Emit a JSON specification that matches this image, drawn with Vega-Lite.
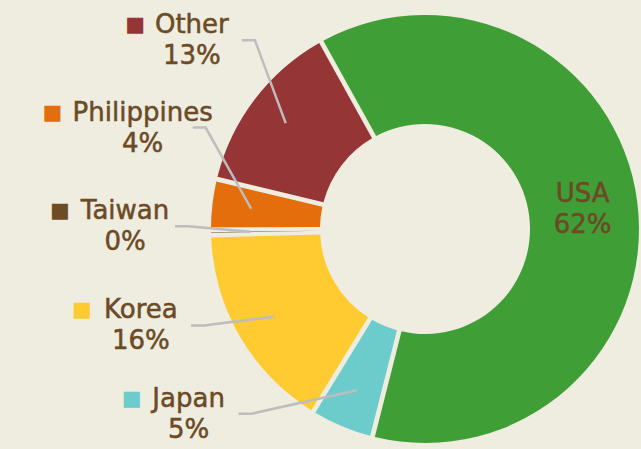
{
  "$schema": "https://vega.github.io/schema/vega-lite/v6.json",
  "autosize": {"type": "none"},
  "width": 432,
  "height": 440,
  "padding": {"left": 209, "top": 9, "right": 0, "bottom": 0},
  "background": "#EFECE0",
  "config": {"view": {"stroke": null}},
  "data": {
    "values": [
      {"idx": 0, "name": "USA", "share": 0.620},
      {"idx": 1, "name": "Japan", "share": 0.048},
      {"idx": 2, "name": "Korea", "share": 0.158},
      {"idx": 3, "name": "Taiwan", "share": 0.004},
      {"idx": 4, "name": "Philippines", "share": 0.038},
      {"idx": 5, "name": "Other", "share": 0.132}
    ]
  },
  "transform": [
    {"stack": "share", "groupby": [], "sort": [{"field": "idx", "order": "ascending"}], "as": ["s0", "s1"]},
    {"calculate": "datum.idx === 0 ? (datum.s0 + datum.s1) / 2 : (261 + 19.25 * (datum.idx - 1)) / 360", "as": "labelPos"},
    {"calculate": "datum.name + '\\n' + format(datum.share, '.0%')", "as": "label"},
    {"calculate": "length(replace(datum.name, regexp('[^ilIjJ]', 'g'), ''))", "as": "thin"},
    {"calculate": "length(replace(datum.name, regexp('[^trfs]', 'g'), ''))", "as": "mid"},
    {"calculate": "26 * (0.64 * (length(datum.name) - datum.thin - datum.mid) + 0.45 * datum.mid + 0.28 * datum.thin)", "as": "nameW"}
  ],
  "layer": [
    {
      "mark": {"type": "arc", "outerRadius": 214, "innerRadius": 105, "padAngle": 0.02},
      "encoding": {
        "theta": {"field": "s0", "type": "quantitative", "stack": null, "scale": {"domain": [0, 1], "range": [-0.506, 5.777]}},
        "theta2": {"field": "s1"},
        "color": {
          "field": "name", "type": "nominal", "legend": null,
          "scale": {
            "domain": ["USA", "Japan", "Korea", "Taiwan", "Philippines", "Other"],
            "range": ["#409E37", "#6CCBCB", "#FFCB30", "#6D4C25", "#E56E0C", "#963536"]
          }
        }
      }
    },
    {
      "transform": [
        {"filter": "datum.idx > 0"},
        {"calculate": "-0.506 + datum.labelPos * 6.2832", "as": "aL"},
        {"calculate": "-0.506 + (datum.s0 + datum.s1) / 2 * 6.2832", "as": "aM"},
        {"calculate": "[300 * sin(datum.aL) + 50, 300 * sin(datum.aL) + 63, 175 * sin(datum.aM)]", "as": "px"},
        {"calculate": "[300 * cos(datum.aL), 300 * cos(datum.aL), 175 * cos(datum.aM)]", "as": "py"},
        {"calculate": "[0, 1, 2]", "as": "pi"},
        {"flatten": ["px", "py", "pi"]}
      ],
      "mark": {"type": "line", "stroke": "#BDBDBD", "strokeWidth": 2.5},
      "encoding": {
        "x": {"field": "px", "type": "quantitative", "axis": null, "scale": {"domain": [-216, 216], "nice": false, "zero": false}},
        "y": {"field": "py", "type": "quantitative", "axis": null, "scale": {"domain": [-220, 220], "nice": false, "zero": false}},
        "detail": {"field": "name"},
        "order": {"field": "pi"}
      }
    },
    {
      "transform": [{"filter": "datum.idx > 0"}],
      "mark": {"type": "text", "radius": 300, "dx": {"expr": "-(datum.nameW / 2 + 10)"}, "dy": -15, "font": "DejaVu Sans", "fontSize": 21, "align": "right", "baseline": "middle"},
      "encoding": {
        "theta": {"field": "labelPos", "type": "quantitative", "stack": null, "scale": {"domain": [0, 1], "range": [-0.506, 5.777]}},
        "text": {"value": "■"},
        "color": {"field": "name", "type": "nominal", "legend": null}
      }
    },
    {
      "transform": [{"filter": "datum.idx > 0"}],
      "mark": {"type": "text", "radius": 300, "dy": -15, "font": "DejaVu Sans", "fontSize": 26, "lineHeight": 31, "lineBreak": "\n", "align": "center", "baseline": "middle", "fill": "#6B4A26", "stroke": "#6B4A26", "strokeWidth": 0.5},
      "encoding": {
        "theta": {"field": "labelPos", "type": "quantitative", "stack": null, "scale": {"domain": [0, 1], "range": [-0.506, 5.777]}},
        "text": {"field": "label"}
      }
    },
    {
      "transform": [{"filter": "datum.idx === 0"}],
      "mark": {"type": "text", "radius": 159, "dy": -15, "font": "DejaVu Sans", "fontSize": 26, "lineHeight": 31, "lineBreak": "\n", "align": "center", "baseline": "middle", "fill": "#6B4A26", "stroke": "#6B4A26", "strokeWidth": 0.5},
      "encoding": {
        "theta": {"field": "labelPos", "type": "quantitative", "stack": null, "scale": {"domain": [0, 1], "range": [-0.506, 5.777]}},
        "text": {"field": "label"}
      }
    }
  ]
}
